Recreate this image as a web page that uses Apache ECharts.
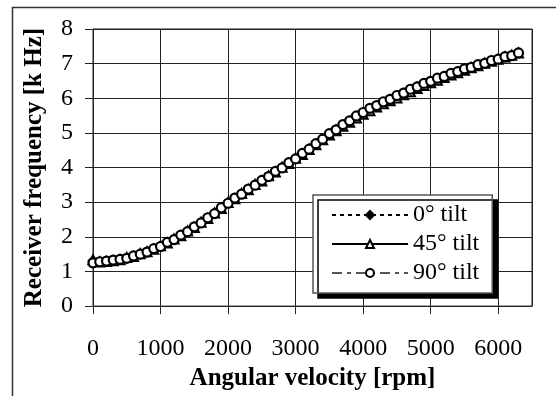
<!DOCTYPE html>
<html>
<head>
<meta charset="utf-8">
<script src="https://cdn.jsdelivr.net/npm/echarts@6/dist/echarts.min.js"></script>
<style>
  html, body { margin: 0; padding: 0; background: #fff; }
  #chart { width: 556px; height: 396px; }
</style>
</head>
<body>
<div id="chart"></div>
<script>
// Angular velocity samples [rpm]
const rpm = [0,100,200,300,400,500,600,700,800,900,1000,1100,1200,1300,1400,1500,1600,1700,1800,1900,
  2000,2100,2200,2300,2400,2500,2600,2700,2800,2900,3000,3100,3200,3300,3400,3500,3600,3700,3800,3900,
  4000,4100,4200,4300,4400,4500,4600,4700,4800,4900,5000,5100,5200,5300,5400,5500,5600,5700,5800,5900,
  6000,6100,6200,6300];

// Receiver frequency [kHz] per tilt angle
const tilt0 = [1.31,1.28,1.30,1.32,1.36,1.39,1.44,1.49,1.57,1.65,1.73,
  1.83,1.93,2.04,2.16,2.28, 2.41,2.54,2.68,2.83,2.98,
  3.11,3.24,3.37,3.50,3.62, 3.75,3.88,4.00,4.13,4.26,
  4.40,4.54,4.68,4.83,4.97, 5.10,5.23,5.36,5.48,5.60,
  5.70,5.80,5.89,5.98,6.07, 6.16,6.25,6.34,6.42,6.50,
  6.57,6.64,6.71,6.78,6.84, 6.90,6.96,7.02,7.08,7.14,
  7.19,7.24,7.30];
const tilt45 = [1.34,1.27,1.29,1.31,1.34,1.40,1.43,1.51,1.57,1.64,1.74,
  1.82,1.94,2.03,2.17,2.27, 2.42,2.53,2.69,2.82,2.99,
  3.10,3.25,3.36,3.51,3.61, 3.76,3.87,4.01,4.12,4.27,
  4.38,4.52,4.66,4.80,4.94, 5.06,5.19,5.31,5.43,5.54,
  5.64,5.75,5.84,5.93,6.01, 6.10,6.19,6.28,6.37,6.45,
  6.52,6.60,6.67,6.74,6.81, 6.88,6.94,7.01,7.07,7.13,
  7.19,7.24,7.31];
const tilt90 = [1.25,1.28,1.30,1.33,1.35,1.38,1.45,1.50,1.56,1.66,1.72,
  1.84,1.92,2.05,2.15,2.29, 2.40,2.55,2.67,2.84,2.97,
  3.12,3.23,3.38,3.49,3.63, 3.74,3.89,3.99,4.14,4.25,
  4.41,4.53,4.69,4.82,4.98, 5.09,5.24,5.35,5.49,5.59,
  5.71,5.79,5.90,5.97,6.08, 6.15,6.26,6.33,6.43,6.49,
  6.58,6.63,6.72,6.77,6.85, 6.89,6.97,7.01,7.09,7.13,
  7.20,7.23,7.31];

const xTicks = { min: 0, max: 6500, interval: 1000 };
const yTicks = { min: 0, max: 8, interval: 1 };

const pairs = ys => rpm.map((x, i) => [x, ys[i]]);
const serif = '"Liberation Serif", "Times New Roman", serif';

const chart = echarts.init(document.getElementById('chart'), null, { renderer: 'canvas' });
chart.setOption({
  animation: false,
  backgroundColor: '#fff',
  textStyle: { fontFamily: serif, color: '#000' },
  graphic: [{
    type: 'rect',
    shape: { x: 12.5, y: 7.5, width: 700, height: 500 },
    style: { fill: 'none', stroke: '#333', lineWidth: 1.5 },
    silent: true, z: -10
  }],
  grid: {
    left: 93, right: 24, top: 29, bottom: 87,
    show: true, borderColor: '#222', borderWidth: 1
  },
  xAxis: {
    type: 'value', min: xTicks.min, max: xTicks.max, interval: xTicks.interval,
    name: 'Angular velocity [rpm]', nameLocation: 'middle', nameGap: 57,
    nameTextStyle: { fontFamily: serif, fontSize: 25, fontWeight: 'bold', color: '#000' },
    axisLine: { show: true, onZero: false, lineStyle: { color: '#222', width: 1 } },
    axisTick: { show: true, inside: false, length: 8, lineStyle: { color: '#222' } },
    axisLabel: { fontFamily: serif, fontSize: 24, color: '#000', margin: 31,
      showMaxLabel: false, formatter: v => String(v) },
    splitLine: { show: true, lineStyle: { color: '#222', width: 1 } }
  },
  yAxis: {
    type: 'value', min: yTicks.min, max: yTicks.max, interval: yTicks.interval,
    name: 'Receiver frequency [k Hz]', nameLocation: 'middle', nameGap: 46,
    nameTextStyle: { fontFamily: serif, fontSize: 25, fontWeight: 'bold', color: '#000' },
    axisLine: { show: true, lineStyle: { color: '#222', width: 1 } },
    axisTick: { show: true, inside: false, length: 8, lineStyle: { color: '#222' } },
    axisLabel: { fontFamily: serif, fontSize: 24, color: '#000', margin: 20 },
    splitLine: { show: true, lineStyle: { color: '#222', width: 1 } }
  },
  legend: {
    orient: 'vertical',
    left: 313, top: 195,
    padding: [8, 13, 8, 18],
    itemWidth: 76, itemHeight: 10, itemGap: 5,
    backgroundColor: '#fff',
    borderColor: '#555', borderWidth: 1.5, borderRadius: 0,
    shadowColor: '#000', shadowBlur: 0, shadowOffsetX: 5, shadowOffsetY: 5,
    textStyle: { fontFamily: serif, fontSize: 24, color: '#000' },
    data: ['0° tilt', '45° tilt', '90° tilt']
  },
  series: [
    {
      name: '0° tilt', type: 'line', data: pairs(tilt0),
      symbol: 'diamond', symbolSize: 10,
      itemStyle: { color: '#000', borderColor: '#000', borderWidth: 1 },
      lineStyle: { color: '#000', width: 1.2, type: [4, 4] },
      z: 2
    },
    {
      name: '45° tilt', type: 'line', data: pairs(tilt45),
      symbol: 'triangle', symbolSize: 9,
      itemStyle: { color: '#fff', borderColor: '#000', borderWidth: 2 },
      lineStyle: { color: '#000', width: 1.5, type: 'solid' },
      z: 3
    },
    {
      name: '90° tilt', type: 'line', data: pairs(tilt90),
      symbol: 'circle', symbolSize: 9,
      itemStyle: { color: '#fff', borderColor: '#000', borderWidth: 2.2 },
      lineStyle: { color: '#555', width: 3, type: [10, 5, 4, 5] },
      z: 4
    }
  ]
});
</script>
</body>
</html>
